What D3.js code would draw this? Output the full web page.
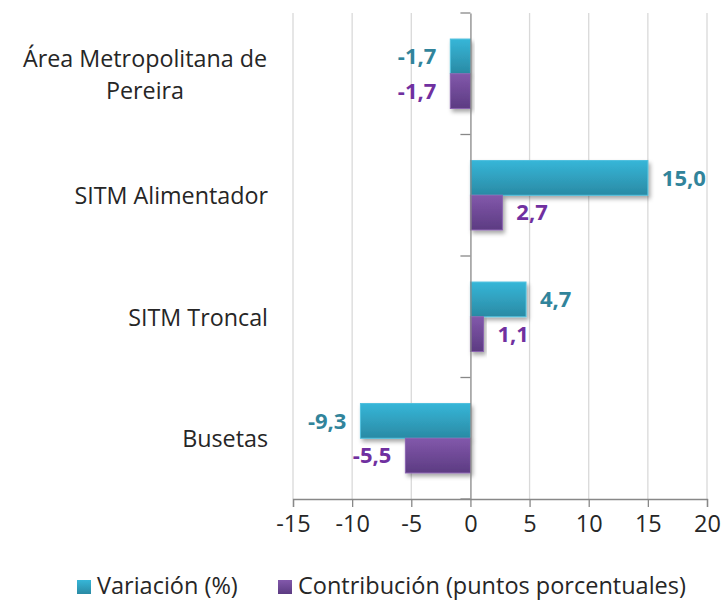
<!DOCTYPE html>
<html>
<head>
<meta charset="utf-8">
<script src="https://cdn.jsdelivr.net/npm/d3@7"></script>
<style>
  html, body { margin: 0; padding: 0; background: #fff; }
  svg { display: block; }
  text { font-family: "Open Sans", Lato, sans-serif; }
</style>
</head>
<body>
<svg id="chart" width="723" height="602"></svg>
<script>
const categories = [["Área Metropolitana de", "Pereira"], ["SITM Alimentador"], ["SITM Troncal"], ["Busetas"]];
const categoryKeys = ["Área Metropolitana de Pereira", "SITM Alimentador", "SITM Troncal", "Busetas"];
const variacion = [-1.7, 15.0, 4.7, -9.3];
const contribucion = [-1.7, 2.7, 1.1, -5.5];
const seriesNames = ["Variación (%)", "Contribución (puntos porcentuales)"];
const xTicks = [-15, -10, -5, 0, 5, 10, 15, 20];

const svg = d3.select("#chart");
const margin = {left: 293, right: 16, top: 13, bottom: 103};
const W = 723, H = 602;
const x = d3.scaleLinear().domain([-15, 20]).range([margin.left, W - margin.right]);
const y = d3.scaleBand().domain(categoryKeys).range([margin.top, H - margin.bottom]).paddingInner(0).paddingOuter(0);
const barH = y.bandwidth() / 3.5;
const fmt = d3.formatLocale({decimal: ",", thousands: ".", grouping: [3], currency: ["", ""], minus: "-"}).format(".1f");

const defs = svg.append("defs");
function grad(id, c1, c2) {
  const g = defs.append("linearGradient").attr("id", id).attr("x1", 0).attr("y1", 0).attr("x2", 0).attr("y2", 1);
  g.append("stop").attr("offset", "0%").attr("stop-color", c1);
  g.append("stop").attr("offset", "100%").attr("stop-color", c2);
}
grad("gTeal", "#36b6d8", "#2a8aa4");
grad("gPurple", "#8258ab", "#5c3b82");
const f = defs.append("filter").attr("id", "shadow").attr("x", "-20%").attr("y", "-30%").attr("width", "140%").attr("height", "170%");
f.append("feDropShadow").attr("dx", 2).attr("dy", 3).attr("stdDeviation", 2).attr("flood-color", "#000").attr("flood-opacity", 0.35);

// gridlines
svg.append("g").selectAll("line").data(xTicks.filter(d => d !== 0)).join("line")
  .attr("x1", d => x(d)).attr("x2", d => x(d))
  .attr("y1", margin.top).attr("y2", H - margin.bottom)
  .attr("stroke", "#d9d9d9").attr("stroke-width", 1.3);

// bars
const series = [
  {name: seriesNames[0], values: variacion, fill: "url(#gTeal)", stroke: "#4fc1de", label: "#31849b", off: 0},
  {name: seriesNames[1], values: contribucion, fill: "url(#gPurple)", stroke: "#8a63b0", label: "#7030a0", off: 1}
];
const groupTop = k => y(k) + (y.bandwidth() - 2 * barH) / 2;

series.forEach(s => {
  const g = svg.append("g");
  g.selectAll("rect").data(categoryKeys).join("rect")
    .attr("x", (k, i) => x(Math.min(0, s.values[i])))
    .attr("width", (k, i) => Math.abs(x(s.values[i]) - x(0)))
    .attr("y", k => groupTop(k) + s.off * barH)
    .attr("height", barH)
    .attr("fill", s.fill)
    .attr("stroke", s.stroke).attr("stroke-width", 1)
    .attr("filter", "url(#shadow)");
});
series.forEach(s => {
  svg.append("g").selectAll("text").data(categoryKeys).join("text")
    .attr("x", (k, i) => s.values[i] >= 0 ? x(s.values[i]) + 14 : x(s.values[i]) - 14)
    .attr("y", k => groupTop(k) + s.off * barH + barH / 2)
    .attr("dy", "0.35em")
    .attr("text-anchor", (k, i) => s.values[i] >= 0 ? "start" : "end")
    .attr("font-family", "Lato, sans-serif")
    .attr("font-size", 22).attr("font-weight", "bold")
    .attr("fill", s.label)
    .text((k, i) => fmt(s.values[i]));
});

// x axis
const xAxis = svg.append("g").attr("transform", `translate(0,${H - margin.bottom})`)
  .call(d3.axisBottom(x).tickValues(xTicks).tickSize(8).tickPadding(8).tickFormat(d => String(d)));
xAxis.select(".domain").attr("stroke", "#888").attr("stroke-width", 1.3);
xAxis.selectAll(".tick line").attr("stroke", "#888").attr("stroke-width", 1.3);
xAxis.selectAll("text").attr("font-size", 23.5).attr("fill", "#262626").attr("font-family", "'Open Sans', sans-serif");

// y axis at zero
const yAxis = svg.append("g").attr("transform", `translate(${x(0)},0)`)
  .call(d3.axisLeft(y).tickSize(0).tickFormat(""));
yAxis.select(".domain").attr("stroke", "#888").attr("stroke-width", 1.3);
const bounds = [margin.top].concat(categoryKeys.map(k => y(k) + y.bandwidth()));
svg.append("g").selectAll("line").data(bounds).join("line")
  .attr("x1", x(0) - 10).attr("x2", x(0))
  .attr("y1", d => d).attr("y2", d => d)
  .attr("stroke", "#888").attr("stroke-width", 1.3);

// category labels
const cl = svg.append("g");
categoryKeys.forEach((k, i) => {
  const lines = categories[i];
  const cy = y(k) + y.bandwidth() / 2 + 1;
  const lh = 32;
  const t = cl.append("text").attr("font-size", 23.3).attr("fill", "#262626");
  lines.forEach((ln, j) => {
    t.append("tspan").attr("x", lines.length > 1 ? 145 : 268)
      .attr("text-anchor", lines.length > 1 ? "middle" : "end")
      .attr("y", cy + (j - (lines.length - 1) / 2) * lh)
      .attr("dy", "0.35em").text(ln);
  });
});

// legend
const leg = svg.append("g").attr("transform", "translate(0,586)");
const legX = [77, 278];
series.forEach((s, i) => {
  leg.append("rect").attr("x", legX[i]).attr("y", -6).attr("width", 14).attr("height", 14).attr("fill", s.fill);
  leg.append("text").attr("x", legX[i] + 20).attr("y", 0).attr("dy", "0.35em")
    .attr("font-size", 23.5).attr("fill", "#262626").text(s.name);
});
</script>
</body>
</html>
